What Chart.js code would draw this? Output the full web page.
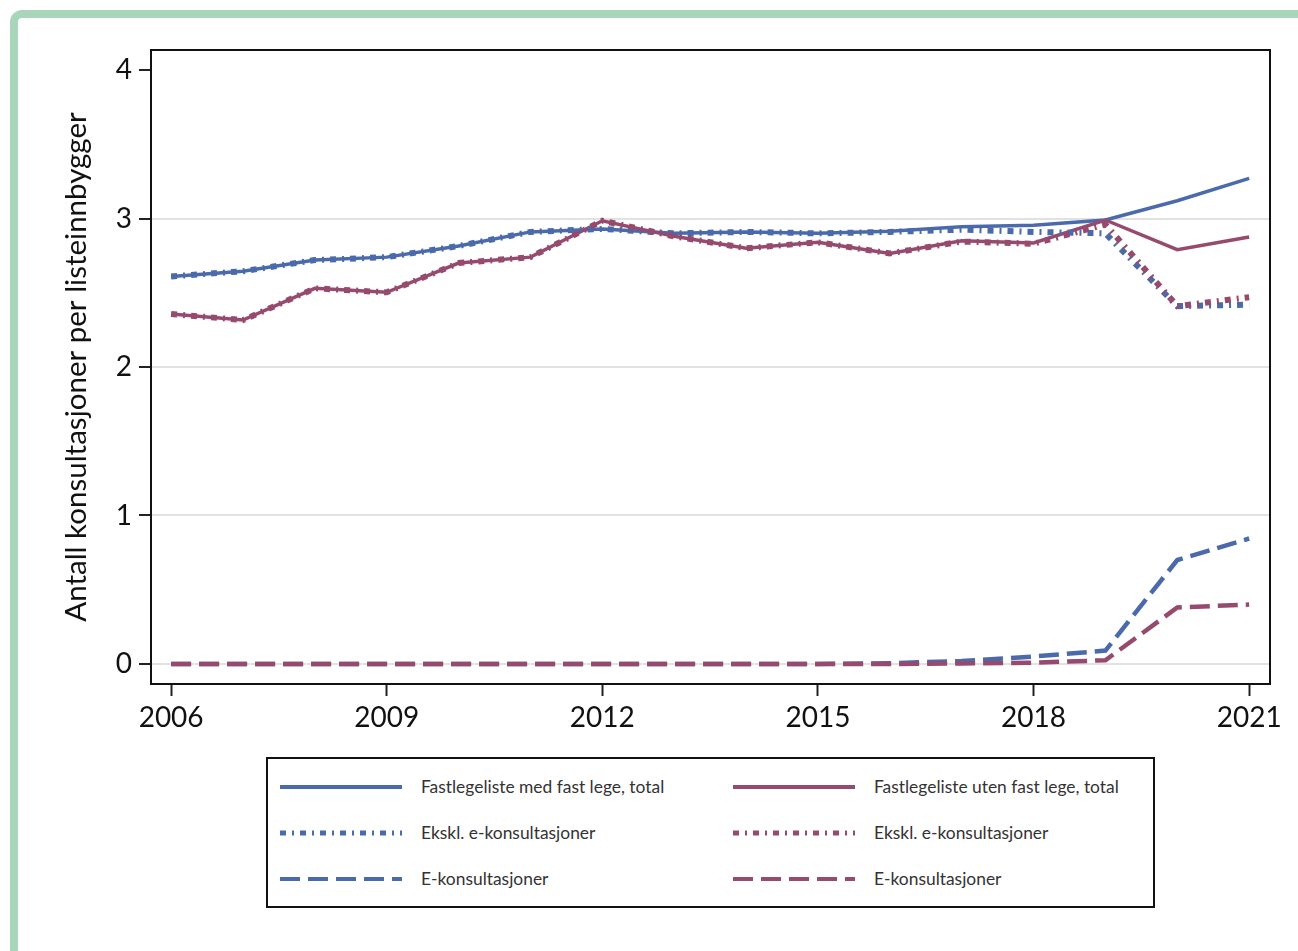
<!DOCTYPE html>
<html>
<head>
<meta charset="utf-8">
<script src="https://cdn.jsdelivr.net/npm/chart.js@4"></script>
<style>
  body { margin: 0; background: #fff; width: 1298px; height: 951px; overflow: hidden; position: relative; font-family: Lato, sans-serif; }
  #frame { position: absolute; left: 10px; top: 10px; width: 1400px; height: 1100px; border: 8px solid #a9d6b9; border-radius: 12px; box-sizing: border-box; }
  #wrap { position: absolute; left: 0; top: 0; width: 1298px; height: 740px; }
  #legend { position: absolute; left: 266px; top: 757px; width: 889px; height: 151px; border: 2px solid #111; box-sizing: border-box; }
  .item { position: absolute; height: 20px; font-size: 17.4px; color: #333; line-height: 20px; }
  .item svg { position: absolute; left: 0; top: 0; }
  .item span { position: absolute; left: 141px; top: 0; white-space: nowrap; }
</style>
</head>
<body>
<div id="frame"></div>
<div id="wrap"><canvas id="myChart"></canvas></div>
<div id="legend"></div>

<script>
// data
const years = [2006, 2007, 2008, 2009, 2010, 2011, 2012, 2013, 2014, 2015, 2016, 2017, 2018, 2019, 2020, 2021];
const medTotal = [2.61, 2.645, 2.72, 2.74, 2.815, 2.91, 2.93, 2.90, 2.91, 2.90, 2.915, 2.945, 2.955, 2.99, 3.12, 3.27];
const medEkskl = [2.61, 2.645, 2.72, 2.74, 2.815, 2.91, 2.93, 2.90, 2.91, 2.90, 2.91, 2.925, 2.91, 2.90, 2.41, 2.42];
const medEkons = [0, 0, 0, 0, 0, 0, 0, 0, 0, 0, 0.005, 0.02, 0.05, 0.09, 0.70, 0.845];
const utenTotal = [2.357, 2.316, 2.53, 2.503, 2.70, 2.74, 2.985, 2.88, 2.80, 2.84, 2.765, 2.85, 2.835, 2.99, 2.79, 2.875];
const utenEkskl = [2.357, 2.316, 2.53, 2.503, 2.70, 2.74, 2.985, 2.88, 2.80, 2.84, 2.765, 2.845, 2.83, 2.96, 2.41, 2.47];
const utenEkons = [0, 0, 0, 0, 0, 0, 0, 0, 0, 0, 0, 0.003, 0.008, 0.025, 0.38, 0.40];

const xTicks = [2006, 2009, 2012, 2015, 2018, 2021];
const yTicks = [0, 1, 2, 3, 4];

const BLUE = "#4a6aab";
const RED = "#964a6e";
const DOTS = [6, 6, 2, 6];
const DASH = [20, 8];

// order: lower number is drawn on top
const series = [
  { label: "Fastlegeliste med fast lege, total", data: medTotal, color: BLUE, dash: [], width: 3.5, order: 5 },
  { label: "Fastlegeliste uten fast lege, total", data: utenTotal, color: RED, dash: [], width: 3.5, order: 4 },
  { label: "Ekskl. e-konsultasjoner", data: medEkskl, color: BLUE, dash: DOTS, width: 6, order: 3 },
  { label: "Ekskl. e-konsultasjoner", data: utenEkskl, color: RED, dash: DOTS, width: 6, order: 2 },
  { label: "E-konsultasjoner", data: medEkons, color: BLUE, dash: DASH, width: 4.5, order: 1 },
  { label: "E-konsultasjoner", data: utenEkons, color: RED, dash: DASH, width: 4.5, order: 0 },
];

// frame round the plot area
const boxPlugin = {
  id: "box",
  afterDraw(chart) {
    const { ctx, chartArea: a } = chart;
    ctx.save();
    ctx.strokeStyle = "#111";
    ctx.lineWidth = 2;
    ctx.strokeRect(a.left, a.top, a.right - a.left, a.bottom - a.top);
    ctx.restore();
  },
};

const tickFont = { family: "Lato", size: 28 };

new Chart(document.getElementById("myChart"), {
  type: "line",
  data: {
    datasets: series.map((s) => ({
      label: s.label,
      data: years.map((y, i) => ({ x: y, y: s.data[i] })),
      borderColor: s.color,
      backgroundColor: s.color,
      borderWidth: s.width,
      borderDash: s.dash,
      borderCapStyle: "butt",
      order: s.order,
      pointRadius: 0,
      tension: 0,
    })),
  },
  options: {
    responsive: true,
    maintainAspectRatio: false,
    animation: false,
    layout: { padding: { left: 55, top: 50, right: 28, bottom: 0 } },
    plugins: { legend: { display: false }, tooltip: { enabled: false } },
    scales: {
      x: {
        type: "linear",
        min: 2005.72,
        max: 2021.29,
        afterBuildTicks: (s) => { s.ticks = xTicks.map((v) => ({ value: v })); },
        afterFit: (s) => { s.height = 56; },
        ticks: { font: tickFont, color: "#111", padding: 5, maxRotation: 0, callback: (v) => String(v) },
        grid: { drawOnChartArea: false, tickLength: 12, tickColor: "#222", tickWidth: 2 },
        border: { color: "#111", width: 2 },
      },
      y: {
        min: -0.135,
        max: 4.135,
        afterBuildTicks: (s) => { s.ticks = yTicks.map((v) => ({ value: v })); },
        afterFit: (s) => { s.width = 96; },
        ticks: { font: tickFont, color: "#111", padding: 7 },
        grid: {
          color: (c) => (c.tick && c.tick.value === 4 ? "rgba(0,0,0,0)" : "#e2e2e2"),
          lineWidth: 2,
          tickLength: 12,
          tickColor: "#222",
          tickWidth: 2,
        },
        border: { color: "#111", width: 2 },
        title: { display: true, text: "Antall konsultasjoner per listeinnbygger", font: { family: "Lato", size: 29.5 }, color: "#111" },
      },
    },
  },
  plugins: [boxPlugin],
});

// legend, two columns
const legend = document.getElementById("legend");
series.forEach((s, i) => {
  const col = i % 2, row = Math.floor(i / 2);
  const div = document.createElement("div");
  div.className = "item";
  div.style.left = (col === 0 ? 12 : 465) + "px";
  div.style.top = (18 + row * 46) + "px";
  const dashAttr = s.dash.length ? ` stroke-dasharray="${s.dash.join(",")}"` : "";
  div.innerHTML = `<svg width="122" height="20"><line x1="0" y1="10" x2="122" y2="10" stroke="${s.color}" stroke-width="${s.dash === DOTS ? 5 : 4}"${dashAttr}/></svg><span>${s.label}</span>`;
  legend.appendChild(div);
});
</script>
</body>
</html>
